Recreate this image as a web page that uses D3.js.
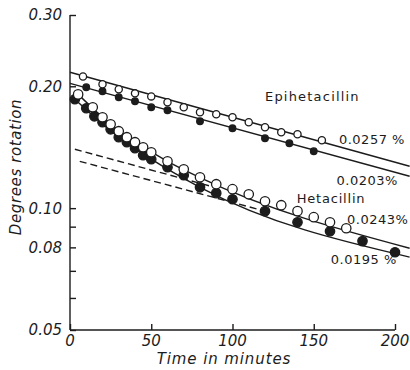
<!DOCTYPE html>
<html><head><meta charset="utf-8">
<script src="https://cdn.jsdelivr.net/npm/d3@7"></script>
<style>body{margin:0;background:#fff;} svg{display:block;font-family:"DejaVu Sans",sans-serif;}</style>
</head><body>
<script>
// Epihetacillin 0.0257% (open circles)
const epiOpenT = [8,20,30,40,50,60,70,80,90,100,110,120,130,140,155];
const epiOpenV = [0.2115,0.2023,0.1966,0.1921,0.1888,0.1826,0.1775,0.1725,0.1706,0.1677,0.163,0.1584,0.154,0.1522,0.1471];
const epiOpenLine = [[0,0.2166],[209,0.1269]];
// Epihetacillin 0.0203% (filled)
const epiFillT = [10,20,30,40,50,60,80,100,120,135,150];
const epiFillV = [0.1989,0.1944,0.1879,0.1836,0.1775,0.1745,0.1639,0.1575,0.1488,0.1447,0.1382];
const epiFillLine = [[0,0.2034],[209,0.1199]];
// Hetacillin 0.0243% (open)
const hetOpenT = [5,14,20,25,30,35,40,45,50,60,70,80,90,100,110,120,130,140,150,160,170];
const hetOpenV = [0.191,0.1775,0.1677,0.1611,0.1549,0.1497,0.1455,0.1414,0.1374,0.1305,0.1247,0.1192,0.1146,0.1114,0.1082,0.104,0.1017,0.0983,0.095,0.0923,0.0892];
const hetOpenLine = [[5,0.191],[15,0.175],[25,0.161],[40,0.146],[60,0.1305],[80,0.119],[209,0.0796]];
// Hetacillin 0.0195% (filled)
const hetFillT = [3,10,15,20,25,30,35,40,45,50,60,70,80,90,100,120,140,160,180,200];
const hetFillV = [0.1858,0.1765,0.1686,0.163,0.1566,0.1497,0.1455,0.1406,0.1351,0.1321,0.1262,0.1206,0.1126,0.1089,0.1052,0.0983,0.0923,0.0877,0.0829,0.0778];
const hetFillLine = [[3,0.1858],[15,0.168],[30,0.1497],[50,0.1321],[80,0.1126],[209,0.0757]];
// Dashed extrapolations
const dashUpper = [[3,0.1398],[89,0.1126]];
const dashLower = [[6,0.1305],[120,0.0983]];

const yTickVals = [0.30,0.20,0.10,0.08,0.05];
const yTickLabels = ["0.30","0.20","0.10","0.08","0.05"];
const yMinorTicks = [0.09,0.07,0.06];
const xTickVals = [0,50,100,150,200];

const labels = [
  {text:"Epihetacillin", t:120, v:0.189, ls:1.2, size:13},
  {text:"0.0257 %", t:165.5, v:0.148, ls:0.5, size:13},
  {text:"0.0203%", t:164, v:0.117, ls:0.5, size:13},
  {text:"Hetacillin", t:139.5, v:0.1058, ls:0.8, size:13},
  {text:"0.0243%", t:170.5, v:0.0939, ls:0.5, size:13},
  {text:"0.0195 %", t:160.5, v:0.0748, ls:0.5, size:13}
];

const W=410,H=370;
const svg=d3.select("body").append("svg").attr("width",W).attr("height",H);
const x=d3.scaleLinear().domain([0,200]).range([70,395]);
const y=d3.scaleLog().domain([0.05,0.30]).range([330,15]);
const ink="#1c1c1c";

// axes
const yAxis=d3.axisLeft(y).tickValues(yTickVals.concat(yMinorTicks)).tickSize(-6).tickFormat(()=> "");
const gy=svg.append("g").attr("transform","translate(70,0)").call(yAxis);
const xAxis=d3.axisBottom(x).tickValues(xTickVals).tickSize(-6).tickFormat(()=> "");
const gx=svg.append("g").attr("transform","translate(0,330)").call(xAxis);
[gy,gx].forEach(g=>{g.selectAll("path,line").attr("stroke",ink).attr("stroke-width",1.4);});
gy.select(".domain").attr("d","M0,15V330");
gx.select(".domain").attr("d","M70,0H395");

svg.append("g").selectAll("text").data(yTickVals).join("text")
  .attr("x",62).attr("y",d=>y(d)).attr("dy","0.36em").attr("text-anchor","end")
  .attr("font-size",15).attr("font-style","italic").attr("fill",ink)
  .text((d,i)=>yTickLabels[i]);
svg.append("g").selectAll("text").data(xTickVals).join("text")
  .attr("x",d=>x(d)).attr("y",341).attr("dy","0.36em").attr("text-anchor","middle")
  .attr("font-size",15).attr("font-style","italic").attr("fill",ink)
  .text(d=>d);

svg.append("text").attr("x",224).attr("y",359).attr("dy","0.36em").attr("text-anchor","middle")
  .attr("font-size",15).attr("font-style","italic").attr("letter-spacing",0.9).attr("fill",ink).text("Time in minutes");
svg.append("text").attr("transform","translate(16,167) rotate(-90)").attr("dy","0.36em").attr("text-anchor","middle")
  .attr("font-size",15).attr("font-style","italic").attr("letter-spacing",0.6).attr("fill",ink).text("Degrees rotation");

// lines
const line=d3.line().x(d=>x(d[0])).y(d=>y(d[1]));
const curve=d3.line().x(d=>x(d[0])).y(d=>y(d[1])).curve(d3.curveMonotoneX);
const lg=svg.append("g").attr("fill","none").attr("stroke",ink).attr("stroke-width",1.4);
lg.append("path").attr("d",line(epiOpenLine));
lg.append("path").attr("d",line(epiFillLine));
lg.append("path").attr("d",curve(hetOpenLine));
lg.append("path").attr("d",curve(hetFillLine));
lg.append("path").attr("d",line(dashUpper)).attr("stroke-dasharray","7,4");
lg.append("path").attr("d",line(dashLower)).attr("stroke-dasharray","7,4");

function pts(T,V,r,filled){
  svg.append("g").selectAll("circle").data(T.map((t,i)=>[t,V[i]])).join("circle")
    .attr("cx",d=>x(d[0])).attr("cy",d=>y(d[1])).attr("r",r)
    .attr("fill",filled?ink:"#fff").attr("stroke",ink).attr("stroke-width",1.3);
}
pts(hetFillT,hetFillV,4.7,true);
pts(hetOpenT,hetOpenV,4.7,false);
pts(epiFillT,epiFillV,3.3,true);
pts(epiOpenT,epiOpenV,3.6,false);

svg.append("g").selectAll("text").data(labels).join("text")
  .attr("x",d=>x(d.t)).attr("y",d=>y(d.v)).attr("dy","0.36em")
  .attr("font-size",d=>d.size).attr("letter-spacing",d=>d.ls).attr("fill",ink)
  .text(d=>d.text);
</script>
</body></html>
